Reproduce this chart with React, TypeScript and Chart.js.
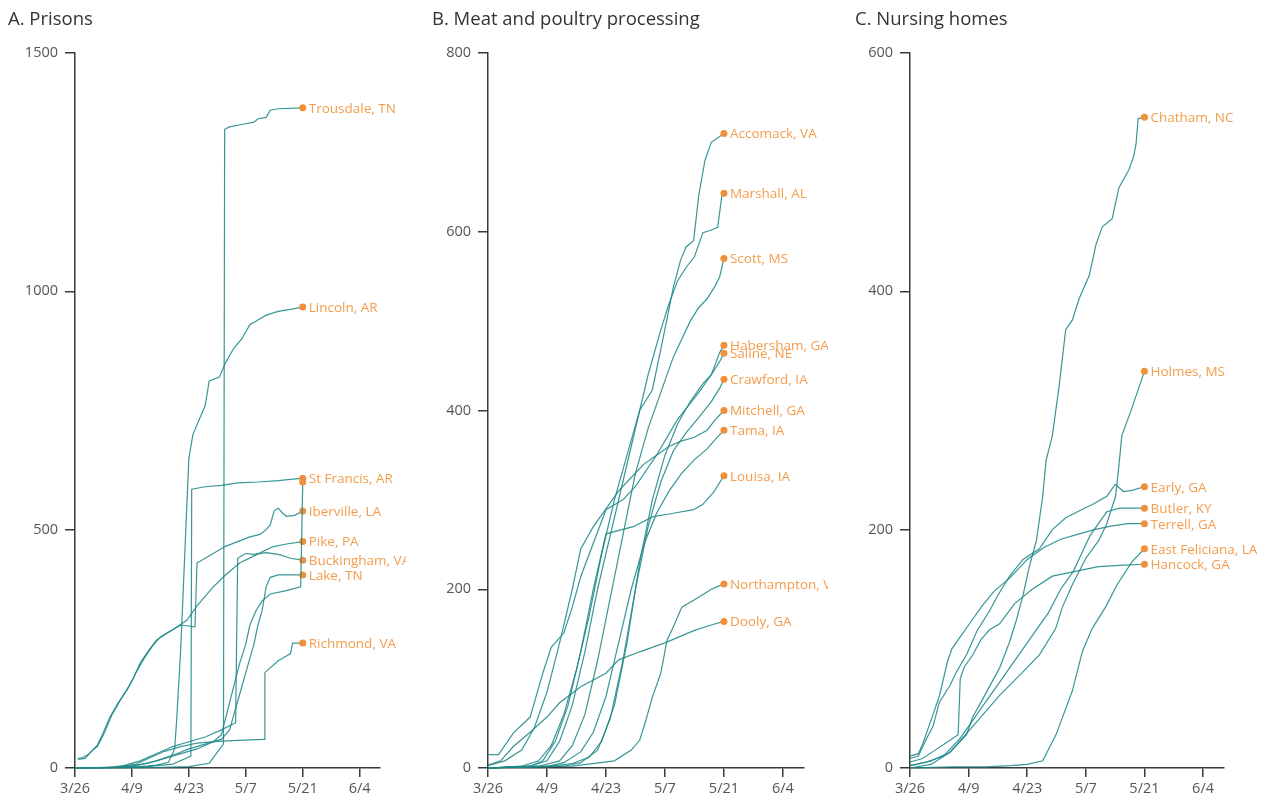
import React, { useEffect, useRef } from "react";
import { Chart, registerables } from "chart.js";

Chart.register(...registerables);

// ---------- axis ticks ----------
const TICK_DAYS = [0, 14, 28, 42, 56, 70]; // days after 3/26
const TICK_LABELS = ["3/26", "4/9", "4/23", "5/7", "5/21", "6/4"];
const PRISON_Y_TICKS = [0, 500, 1000, 1500];
const MEAT_Y_TICKS = [0, 200, 400, 600, 800];
const NURSING_Y_TICKS = [0, 200, 400, 600];

type Pt = [number, number]; // [day after 3/26, cumulative cases]

// ---------- A. Prisons ----------
const TROUSDALE: Pt[] = [[0,0],[10,0],[20,1],[28,3],[33,10],[36.5,50],[36.8,1340],[38,1345],[41,1350],[44,1355],[45,1362],[47,1365],[48,1380],[50,1383],[56,1385]];
const LINCOLN: Pt[] = [[0,0],[10,1],[16,3],[20,6],[23,12],[24.5,40],[25,100],[26,250],[27,450],[28,650],[29,700],[30,720],[31,740],[32,760],[33,812],[35.5,820],[37,850],[39,880],[41,900],[43,930],[45,940],[47,950],[50,958],[53,962],[56,967]];
const ST_FRANCIS: Pt[] = [[0,0],[10,1],[18,3],[24,8],[28.5,25],[28.7,585],[32,590],[36,593],[40,598],[45,600],[50,603],[56,608]];
const PRISON_X: Pt[] = [[0,0],[12,2],[18,10],[24,25],[30,40],[34,55],[36,70],[37.5,120],[39,170],[40.5,220],[42,260],[43,300],[44.5,330],[46,350],[48,365],[52,372],[55.5,380],[56,600]];
const IBERVILLE: Pt[] = [[0.7,20],[2,22],[3.5,30],[5.5,48],[7,75],[8.6,107],[10.5,135],[12.8,164],[14.2,185],[16,220],[18,245],[20,268],[23,285],[26,300],[29.5,296],[30,430],[32,440],[34,450],[37,465],[40,475],[43,485],[45.5,490],[47,500],[48,510],[49,540],[50,545],[51,535],[52,528],[54,530],[56,539]];
const PIKE: Pt[] = [[0.7,18],[2.5,20],[4,35],[5.5,45],[7,70],[9,110],[11,140],[13,168],[15,200],[17,230],[19,255],[21,275],[24,290],[27.5,310],[30,340],[34,380],[37,405],[40.5,430],[44,445],[48.6,464],[52,470],[56,475]];
const BUCKINGHAM: Pt[] = [[0,0],[8,1],[12,5],[16,15],[20,30],[24,45],[28,55],[32,65],[36,80],[39.5,95],[40,440],[42,450],[44,448],[47,452],[50,448],[53,440],[56,436]];
const LAKE: Pt[] = [[0,0],[10,1],[15,5],[20,15],[25,30],[28,40],[32,50],[36,60],[38,80],[39,110],[40,140],[41,170],[42,200],[43,230],[44,260],[45,300],[46,330],[47,380],[48,400],[50,405],[56,405]];
const RICHMOND: Pt[] = [[0,0],[10,2],[15,8],[18,20],[22,35],[26,45],[30,52],[35,56],[40,58],[46.5,60],[46.7,200],[48,210],[50,225],[52,235],[53,240],[53.5,262],[56,262]];

// ---------- B. Meat and poultry processing ----------
const ACCOMACK: Pt[] = [[0,0],[8,2],[12,8],[15,25],[18,60],[21,110],[24,170],[27,240],[30,300],[33,350],[36,400],[39,423],[41,468],[42.6,505],[44,538],[45.7,568],[47,583],[48.8,590],[50,640],[51.5,680],[53,700],[56,710]];
const MARSHALL: Pt[] = [[0,0],[10,2],[14,8],[17,30],[20,70],[23,130],[26,200],[29,260],[32,320],[35,380],[38,440],[41,490],[43,520],[45,545],[47,560],[49,572],[51,599],[53,602],[54.5,605],[55.5,640],[56,643]];
const SCOTT: Pt[] = [[0,0],[12,2],[17,8],[20,25],[23,60],[26,120],[29,190],[32,260],[35,330],[38,380],[41,420],[44,460],[46,480],[48,500],[50,515],[52,525],[54,540],[55,550],[56,570]];
const HABERSHAM: Pt[] = [[0,15],[2.5,15],[6,39],[10,57],[13,106],[15,135],[18,151],[20,180],[22,214],[28,289],[32,300],[35,315],[40,350],[45,390],[50,420],[53,440],[55,465],[56,473]];
const SALINE: Pt[] = [[0,0],[15,2],[20,5],[24,12],[27,30],[30,70],[33,140],[36,230],[39,300],[42,350],[45,385],[48,410],[51,430],[53,440],[55,455],[56,464]];
const CRAWFORD: Pt[] = [[0,0],[18,2],[22,6],[26,20],[29,55],[32,120],[35,200],[38,270],[41,320],[44,355],[47,375],[50,392],[53,410],[55,425],[56,435]];
const MITCHELL: Pt[] = [[0,3],[4,8],[8,20],[11,45],[14,85],[17,140],[20,200],[22,245],[25,270],[28,290],[31,310],[34,325],[37,340],[40,350],[43,360],[46,366],[49,370],[52,378],[54,390],[56,400]];
const TAMA: Pt[] = [[0,0],[14,2],[18,6],[22,18],[25,40],[28,80],[31,140],[34,200],[37,250],[40,285],[43,310],[46,330],[49,345],[52,357],[54,368],[56,378]];
const LOUISA: Pt[] = [[0,0],[10,2],[13,8],[16,30],[19,70],[22,130],[25,200],[28,262],[34.5,270],[39,281],[44,285],[48.8,289],[51,295],[53.6,309],[56,327]];
const NORTHAMPTON: Pt[] = [[0,0],[20,2],[30,8],[34,20],[36,31],[37.5,54],[39,79],[41,106],[42.5,143],[44,158],[46,180],[50,191],[53,200],[56,206]];
const DOOLY: Pt[] = [[0,3],[3,8],[6,24],[10,40],[14,57],[17,73],[22,91],[28,106],[31,121],[36,130],[42,140],[49,154],[53,160],[56,164]];

// ---------- C. Nursing homes ----------
const CHATHAM: Pt[] = [[0,2],[1.6,3],[5,6],[9.5,13],[13.5,28],[15,43],[17.4,58],[21.4,84],[23.8,106],[25.4,124],[27,145],[28.5,169],[30.2,191],[31.7,228],[32.5,258],[34,279],[35.6,320],[37.2,368],[38.8,376],[40.4,394],[42.8,413],[44.4,439],[45.9,454],[48.3,461],[49.9,487],[52.3,502],[53.4,513],[54,524],[54.5,545],[56,546]];
const HOLMES: Pt[] = [[0,0],[5,3],[9.5,13],[15,35],[21.4,61],[26.8,80],[30.9,95],[34.8,117],[36.4,135],[38.8,154],[42,176],[45.1,191],[47,205],[49.1,228],[49.9,254],[50.6,279],[53,302],[56,333]];
const EARLY: Pt[] = [[0,8],[2,10],[4,25],[5.5,35],[7,55],[9.5,69],[11,80],[13.5,95],[16,115],[19,132],[21,145],[23.8,161],[27,175],[30.9,184],[34,200],[37.2,210],[40,215],[44,222],[47,228],[49,238],[51,232],[53,233],[56,236]];
const BUTLER: Pt[] = [[0,2],[4,5],[8,10],[12,25],[15,40],[18,55],[21,70],[24,85],[27,100],[30,115],[33,130],[36,150],[39,165],[41,180],[43,195],[45,205],[47,215],[50,218],[56,218]];
const TERRELL: Pt[] = [[0,10],[2,12],[3,20],[5,40],[7,60],[9,90],[10,100],[12,110],[14,120],[17,135],[20,148],[24,160],[28,175],[32,185],[36,192],[40,196],[44,200],[48,203],[52,205],[56,205]];
const EAST_FELICIANA: Pt[] = [[0,0],[10,1],[18,1],[24,2],[28,3],[31.7,6],[34.9,28],[38.8,65],[41.2,98],[43.5,117],[46.7,135],[49.5,154],[53,173],[56,184]];
const HANCOCK: Pt[] = [[0,5],[3,8],[6,15],[9,22],[11.5,28],[12,75],[13,85],[15,95],[17,108],[19,116],[21.4,121],[25,138],[29.2,150],[34,161],[45,169],[50,170],[56,171]];

// ---------- styling ----------
const TEAL = "rgba(30,136,136,0.88)";
const ORANGE = "#f0913a";
const ORANGE_TEXT = "#f39d4c";
const AXIS = "#3a3a3a";
const FONT = "'Open Sans', 'Noto Sans', sans-serif";

type Series = { name: string; data: Pt[] };
type PanelCfg = {
  title: string;
  left: number;
  width: number;
  chartLeft: number;
  chartRight: number;
  yMax: number;
  yTicks: number[];
  series: Series[];
};

const PANELS: PanelCfg[] = [
  {
    title: "A. Prisons",
    left: 0,
    width: 406,
    chartLeft: 75,
    chartRight: 380,
    yMax: 1500,
    yTicks: PRISON_Y_TICKS,
    series: [
      { name: "Trousdale, TN", data: TROUSDALE },
      { name: "Lincoln, AR", data: LINCOLN },
      { name: "", data: PRISON_X },
      { name: "St Francis, AR", data: ST_FRANCIS },
      { name: "Iberville, LA", data: IBERVILLE },
      { name: "Pike, PA", data: PIKE },
      { name: "Buckingham, VA", data: BUCKINGHAM },
      { name: "Lake, TN", data: LAKE },
      { name: "Richmond, VA", data: RICHMOND },
    ],
  },
  {
    title: "B. Meat and poultry processing",
    left: 424,
    width: 404,
    chartLeft: 64,
    chartRight: 380,
    yMax: 800,
    yTicks: MEAT_Y_TICKS,
    series: [
      { name: "Accomack, VA", data: ACCOMACK },
      { name: "Marshall, AL", data: MARSHALL },
      { name: "Scott, MS", data: SCOTT },
      { name: "Habersham, GA", data: HABERSHAM },
      { name: "Saline, NE", data: SALINE },
      { name: "Crawford, IA", data: CRAWFORD },
      { name: "Mitchell, GA", data: MITCHELL },
      { name: "Tama, IA", data: TAMA },
      { name: "Louisa, IA", data: LOUISA },
      { name: "Northampton, VA", data: NORTHAMPTON },
      { name: "Dooly, GA", data: DOOLY },
    ],
  },
  {
    title: "C. Nursing homes",
    left: 847,
    width: 423,
    chartLeft: 63,
    chartRight: 377,
    yMax: 600,
    yTicks: NURSING_Y_TICKS,
    series: [
      { name: "Chatham, NC", data: CHATHAM },
      { name: "Holmes, MS", data: HOLMES },
      { name: "Early, GA", data: EARLY },
      { name: "Butler, KY", data: BUTLER },
      { name: "Terrell, GA", data: TERRELL },
      { name: "East Feliciana, LA", data: EAST_FELICIANA },
      { name: "Hancock, GA", data: HANCOCK },
    ],
  },
];

const CHART_TOP = 53;
const CHART_BOTTOM = 768;
const HEIGHT = 803;

function Panel({ cfg }: { cfg: PanelCfg }) {
  const ref = useRef<HTMLCanvasElement>(null);

  useEffect(() => {
    if (!ref.current) return;
    const endLabels = {
      id: "endLabels",
      afterDatasetsDraw(chart: any) {
        const ctx = chart.ctx;
        ctx.save();
        ctx.font = `13.5px ${FONT}`;
        ctx.fillStyle = ORANGE_TEXT;
        ctx.textBaseline = "middle";
        ctx.textAlign = "left";
        chart.data.datasets.forEach((ds: any, i: number) => {
          if (!ds.label) return;
          const meta = chart.getDatasetMeta(i);
          const last = meta.data[meta.data.length - 1];
          if (!last) return;
          ctx.fillText(ds.label, last.x + 6, last.y + 1);
        });
        ctx.restore();
      },
    };

    const chart = new Chart(ref.current, {
      type: "line",
      data: {
        datasets: cfg.series.map((s) => ({
          label: s.name,
          data: s.data.map(([x, y]) => ({ x, y })),
          borderColor: TEAL,
          borderWidth: 1.2,
          tension: 0,
          fill: false,
          clip: false as any,
          pointRadius: (c: any) => (c.dataIndex === s.data.length - 1 ? 3.5 : 0),
          pointBackgroundColor: ORANGE,
          pointBorderColor: ORANGE,
          pointBorderWidth: 0,
          pointHoverRadius: 0,
        })),
      },
      options: {
        animation: false,
        responsive: false,
        maintainAspectRatio: false,
        events: [],
        layout: {
          padding: {
            left: 0,
            right: cfg.width - cfg.chartRight,
            top: CHART_TOP,
            bottom: 0,
          },
        },
        plugins: {
          legend: { display: false },
          tooltip: { enabled: false },
          title: { display: false },
        },
        scales: {
          x: {
            type: "linear",
            min: 0,
            max: 75,
            afterFit: (s: any) => {
              s.height = HEIGHT - CHART_BOTTOM;
            },
            afterBuildTicks: (s: any) => {
              s.ticks = TICK_DAYS.map((v) => ({ value: v }));
            },
            ticks: {
              callback: (_v: any, i: number) => TICK_LABELS[i],
              font: { size: 14.5, family: FONT },
              color: "#555",
              padding: 3,
              maxRotation: 0,
              autoSkip: false,
            },
            grid: {
              drawOnChartArea: false,
              drawTicks: true,
              tickLength: 9,
              color: AXIS,
              lineWidth: 1.5,
            },
            border: { display: true, color: AXIS, width: 1.5 },
          },
          y: {
            type: "linear",
            min: 0,
            max: cfg.yMax,
            afterFit: (s: any) => {
              s.width = cfg.chartLeft;
            },
            afterBuildTicks: (s: any) => {
              s.ticks = cfg.yTicks.map((v) => ({ value: v }));
            },
            ticks: {
              callback: (v: any) => String(v),
              font: { size: 14.5, family: FONT },
              color: "#555",
              padding: 7,
            },
            grid: {
              drawOnChartArea: false,
              drawTicks: true,
              tickLength: 10,
              color: AXIS,
              lineWidth: 1.5,
            },
            border: { display: true, color: AXIS, width: 1.5 },
          },
        },
      } as any,
      plugins: [endLabels],
    });
    return () => chart.destroy();
  }, [cfg]);

  return (
    <>
      <canvas
        ref={ref}
        width={cfg.width}
        height={HEIGHT}
        style={{ position: "absolute", left: cfg.left, top: 0, width: cfg.width, height: HEIGHT }}
      />
      <div
        style={{
          position: "absolute",
          left: cfg.left + 8,
          top: 6,
          fontFamily: FONT,
          fontSize: 18.5,
          color: "#333",
          whiteSpace: "nowrap",
          lineHeight: "24px",
        }}
      >
        {cfg.title}
      </div>
    </>
  );
}

export default function App() {
  return (
    <div
      style={{
        position: "absolute",
        left: 0,
        top: 0,
        width: 1270,
        height: HEIGHT,
        background: "#fff",
        overflow: "hidden",
      }}
    >
      {PANELS.map((p) => (
        <Panel key={p.title} cfg={p} />
      ))}
    </div>
  );
}
